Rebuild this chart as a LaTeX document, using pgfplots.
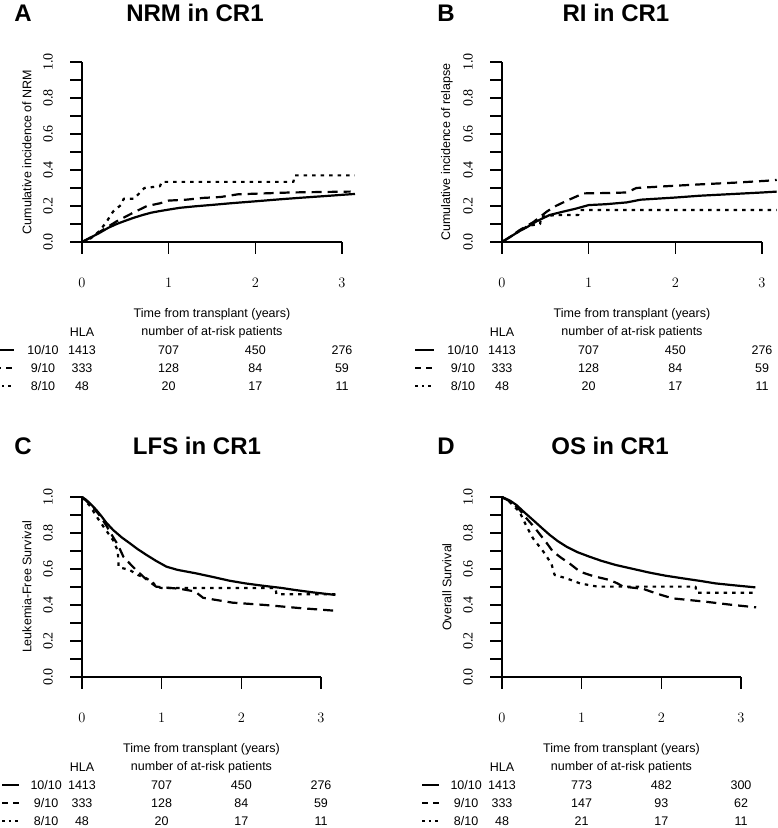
\documentclass[border=0pt]{standalone}
\usepackage{fontspec}
\setmainfont{Liberation Sans}
\newfontfamily\tickfont{Liberation Serif}
\usepackage{pgfplots}
\pgfplotsset{compat=1.18}

\newcommand\tabfont{\fontsize{12.5}{15}\selectfont}
\newcommand\titlefont{\bfseries\fontsize{24}{26}\selectfont}
\newcommand\rt[1]{\rotatebox{90}{#1}}
\tikzset{
  hla10/.style={black, line width=2.2pt, solid, line join=round},
  hla9/.style={black, line width=2.2pt, dash pattern=on 10pt off 6pt, line join=round},
  hla8/.style={black, line width=2.2pt, dash pattern=on 3.5pt off 5pt, line join=round},
  key9/.style={black, line width=2pt, dash pattern=on 6pt off 5pt},
  key8/.style={black, line width=2pt, dash pattern=on 2.5pt off 4pt},
}
\pgfplotsset{
  km/.style={
    scale only axis, height=180pt,
    xmin=0, xmax=3, ymin=0, ymax=1,
    clip=false,
    axis lines=left,
    axis line style={-, line width=1.6pt},
    xtick={0,1,2,3},
    ytick={0,0.2,0.4,0.6,0.8,1},
    yticklabels={\rt{0.0},\rt{0.2},\rt{0.4},\rt{0.6},\rt{0.8},\rt{1.0}},
    minor ytick={0.1,0.3,0.5,0.7,0.9},
    tick align=outside,
    major tick length=12pt, minor tick length=12pt,
    every tick/.style={black, line width=1.6pt},
    xticklabel style={font=\tickfont\fontsize{15}{15}\selectfont, anchor=center, yshift=-29pt},
    yticklabel style={font=\tickfont\fontsize{14}{14}\selectfont, anchor=center, xshift=-22pt},
    every axis y label/.style={at={([xshift=-55pt]axis description cs:0,0.5)}, rotate=90, anchor=center, font=\tabfont},
  }
}

% risk table: numbers at 1, 2, 3 years for 10/10, 9/10, 8/10
\newcommand\risktable[9]{%
  \node[font=\tabfont] at (axis cs:1.5,-0.4) {Time from transplant (years)};
  \node[font=\tabfont] at (axis cs:1.5,-0.5) {number of at-risk patients};
  \node[font=\tabfont] at (axis cs:0,-0.5) {HLA};
  \node[font=\tabfont] at (axis cs:-0.45,-0.6) {10/10};
  \node[font=\tabfont] at (axis cs:-0.45,-0.7) {9/10};
  \node[font=\tabfont] at (axis cs:-0.45,-0.8) {8/10};
  \node[font=\tabfont] at (axis cs:0,-0.6) {1413};
  \node[font=\tabfont] at (axis cs:0,-0.7) {333};
  \node[font=\tabfont] at (axis cs:0,-0.8) {48};
  \node[font=\tabfont] at (axis cs:1,-0.6) {#1};
  \node[font=\tabfont] at (axis cs:2,-0.6) {#2};
  \node[font=\tabfont] at (axis cs:3,-0.6) {#3};
  \node[font=\tabfont] at (axis cs:1,-0.7) {#4};
  \node[font=\tabfont] at (axis cs:2,-0.7) {#5};
  \node[font=\tabfont] at (axis cs:3,-0.7) {#6};
  \node[font=\tabfont] at (axis cs:1,-0.8) {#7};
  \node[font=\tabfont] at (axis cs:2,-0.8) {#8};
  \node[font=\tabfont] at (axis cs:3,-0.8) {#9};
  \addplot[hla10] coordinates {(-1,-0.6) (-0.79,-0.6)};
  \addplot[key9] coordinates {(-1,-0.7) (-0.79,-0.7)};
  \addplot[key8] coordinates {(-1,-0.8) (-0.79,-0.8)};
}

\begin{document}
\begin{tikzpicture}
\path[use as bounding box] (0,0) rectangle (778pt,828pt);

% A: NRM
\begin{axis}[km, width=260pt, at={(82pt,586pt)}, anchor=south west,
  ylabel={Cumulative incidence of NRM}]
\addplot[hla10] coordinates {(0,0) (0.05,0.012) (0.1,0.025) (0.2,0.05) (0.3,0.078) (0.4,0.1) (0.5,0.118) (0.6,0.135) (0.7,0.15) (0.8,0.163) (0.9,0.172) (1.0,0.18) (1.13,0.19) (1.3,0.198) (1.5,0.206) (1.71,0.215) (2.0,0.226) (2.28,0.237) (2.5,0.245) (2.8,0.255) (3.0,0.262) (3.15,0.267)};
\addplot[hla9] coordinates {(0,0) (0.1,0.025) (0.2,0.055) (0.3,0.085) (0.4,0.115) (0.5,0.14) (0.6,0.165) (0.75,0.2) (0.9,0.215) (1.0,0.23) (1.2,0.235) (1.4,0.245) (1.6,0.25) (1.8,0.265) (2.1,0.27) (2.4,0.275) (2.8,0.278) (3.1,0.28)};
\addplot[hla8] coordinates {(0,0) (0.1,0.02) (0.2,0.06) (0.28,0.11) (0.36,0.17) (0.46,0.21) (0.48,0.24) (0.6,0.24) (0.66,0.27) (0.72,0.3) (0.9,0.31) (0.92,0.334) (2.44,0.334) (2.45,0.37) (3.15,0.37)};
\risktable{707}{450}{276}{128}{84}{59}{20}{17}{11}
\end{axis}

% B: RI
\begin{axis}[km, width=260pt, at={(502pt,586pt)}, anchor=south west,
  ylabel={Cumulative incidence of relapse}]
\addplot[hla10] coordinates {(0,0) (0.1,0.03) (0.2,0.06) (0.28,0.08) (0.4,0.115) (0.55,0.15) (0.7,0.168) (0.85,0.185) (1.0,0.205) (1.2,0.21) (1.44,0.22) (1.6,0.235) (2.0,0.247) (2.28,0.257) (2.6,0.265) (3.0,0.275) (3.17,0.28)};
\addplot[hla9] coordinates {(0,0) (0.1,0.03) (0.2,0.065) (0.36,0.11) (0.52,0.17) (0.62,0.2) (0.75,0.23) (0.94,0.27) (1.2,0.272) (1.44,0.275) (1.55,0.3) (1.9,0.31) (2.28,0.32) (2.7,0.33) (3.05,0.34) (3.17,0.345)};
\addplot[hla8] coordinates {(0,0) (0.1,0.03) (0.2,0.06) (0.3,0.09) (0.44,0.1) (0.45,0.14) (0.62,0.15) (0.88,0.15) (0.9,0.178) (3.17,0.178)};
\risktable{707}{450}{276}{128}{84}{59}{20}{17}{11}
\end{axis}

% C: LFS
\begin{axis}[km, width=239pt, at={(82pt,151pt)}, anchor=south west,
  ylabel={Leukemia-Free Survival}]
\addplot[hla10] coordinates {(0,1) (0.05,0.985) (0.1,0.965) (0.18,0.928) (0.25,0.89) (0.3,0.86) (0.39,0.817) (0.5,0.775) (0.6,0.743) (0.7,0.71) (0.81,0.678) (0.93,0.645) (1.06,0.613) (1.2,0.595) (1.43,0.576) (1.65,0.555) (1.85,0.535) (2.05,0.52) (2.27,0.507) (2.5,0.495) (2.68,0.483) (2.9,0.47) (3.18,0.456)};
\addplot[hla9] coordinates {(0,1) (0.1,0.96) (0.2,0.91) (0.3,0.845) (0.4,0.77) (0.45,0.735) (0.52,0.668) (0.6,0.63) (0.68,0.594) (0.8,0.545) (0.93,0.502) (1.1,0.495) (1.23,0.49) (1.42,0.475) (1.52,0.44) (1.89,0.413) (2.3,0.4) (2.73,0.383) (3.18,0.368)};
\addplot[hla8] coordinates {(0,1) (0.1,0.95) (0.2,0.88) (0.27,0.835) (0.39,0.76) (0.45,0.70) (0.46,0.61) (0.55,0.6) (0.6,0.594) (0.7,0.567) (0.81,0.548) (0.9,0.52) (0.93,0.502) (1.0,0.494) (2.43,0.494) (2.44,0.46) (3.18,0.46)};
\risktable{707}{450}{276}{128}{84}{59}{20}{17}{11}
\end{axis}

% D: OS
\begin{axis}[km, width=239pt, at={(502pt,151pt)}, anchor=south west,
  ylabel={Overall Survival}]
\addplot[hla10] coordinates {(0,1) (0.05,0.99) (0.1,0.98) (0.18,0.956) (0.28,0.915) (0.39,0.872) (0.5,0.828) (0.6,0.789) (0.7,0.755) (0.81,0.724) (0.95,0.693) (1.1,0.668) (1.25,0.645) (1.43,0.622) (1.65,0.6) (1.85,0.58) (2.05,0.563) (2.27,0.548) (2.5,0.533) (2.68,0.52) (2.9,0.51) (3.18,0.498)};
\addplot[hla9] coordinates {(0,1) (0.1,0.975) (0.2,0.94) (0.31,0.88) (0.4,0.835) (0.48,0.79) (0.56,0.745) (0.64,0.696) (0.75,0.66) (0.85,0.63) (0.98,0.585) (1.14,0.561) (1.35,0.539) (1.45,0.52) (1.52,0.502) (1.77,0.49) (1.93,0.465) (2.14,0.437) (2.56,0.418) (2.9,0.4) (3.19,0.387)};
\addplot[hla8] coordinates {(0,1) (0.1,0.97) (0.22,0.918) (0.31,0.835) (0.39,0.77) (0.52,0.696) (0.62,0.63) (0.66,0.567) (0.81,0.548) (0.98,0.52) (1.1,0.51) (1.2,0.502) (2.43,0.502) (2.44,0.468) (3.18,0.468)};
\risktable{773}{482}{300}{147}{93}{62}{21}{17}{11}
\end{axis}

% titles and panel letters
\node[font=\titlefont] at (195pt,815pt) {NRM in CR1};
\node[font=\titlefont] at (616pt,815pt) {RI in CR1};
\node[font=\titlefont] at (197pt,382pt) {LFS in CR1};
\node[font=\titlefont] at (610pt,382pt) {OS in CR1};
\node[font=\titlefont] at (23pt,815pt) {A};
\node[font=\titlefont] at (446pt,815pt) {B};
\node[font=\titlefont] at (23pt,382pt) {C};
\node[font=\titlefont] at (446pt,382pt) {D};
\end{tikzpicture}
\end{document}
